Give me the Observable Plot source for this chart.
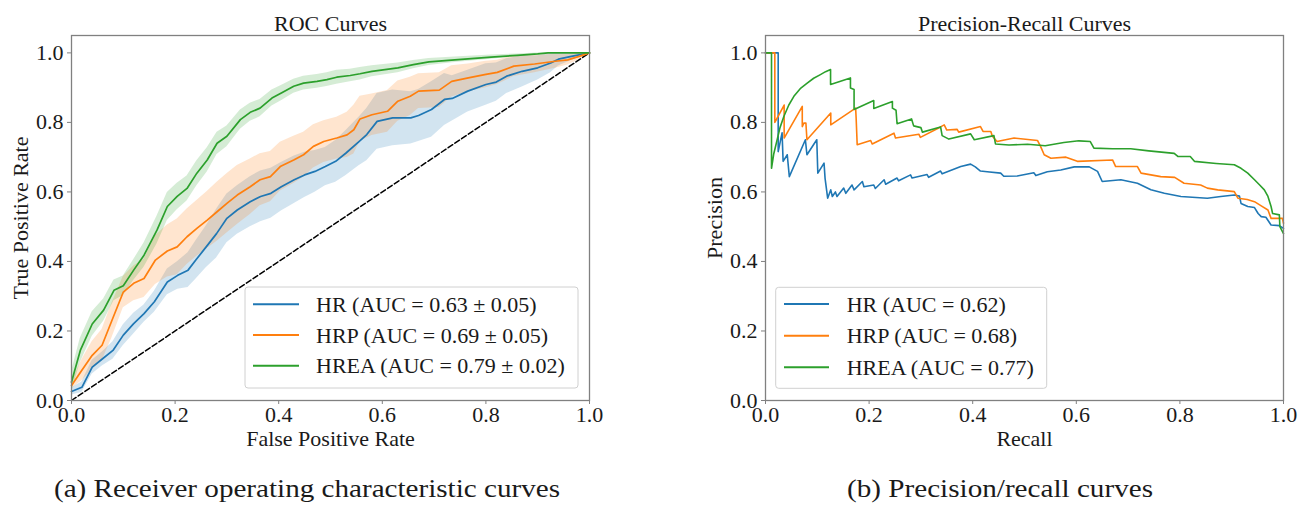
<!DOCTYPE html>
<html><head><meta charset="utf-8">
<script src="https://cdn.jsdelivr.net/npm/d3@7"></script>
<script src="https://cdn.jsdelivr.net/npm/@observablehq/plot@0.6"></script>
<style>
html,body{margin:0;padding:0;background:#fff;}
#root{position:relative;width:1307px;height:507px;overflow:hidden;}
#root svg{position:absolute;top:0;overflow:visible;}
</style></head><body><div id="root"></div>
<script>
// ---------- data ----------
const seriesNames = ["HR", "HRP", "HREA"];
const seriesColors = ["#1f77b4", "#ff7f0e", "#2ca02c"];
const rocLegendLabels = ["HR (AUC = 0.63 \u00b1 0.05)", "HRP (AUC = 0.69 \u00b1 0.05)", "HREA (AUC = 0.79 \u00b1 0.02)"];
const prLegendLabels = ["HR (AUC = 0.62)", "HRP (AUC = 0.68)", "HREA (AUC = 0.77)"];
const axisTicks = [0, 0.2, 0.4, 0.6, 0.8, 1.0];
const chanceLine = [0, 1];

const rocTitle = "ROC Curves", rocXLabel = "False Positive Rate", rocYLabel = "True Positive Rate";
const prTitle = "Precision-Recall Curves", prXLabel = "Recall", prYLabel = "Precision";
const captionA = "(a) Receiver operating characteristic curves";
const captionB = "(b) Precision/recall curves";

const rocFprHR = [0, 0.02, 0.04, 0.06, 0.08, 0.10, 0.12, 0.14, 0.16, 0.185, 0.205, 0.225, 0.24, 0.26, 0.28, 0.30, 0.32, 0.345, 0.365, 0.385, 0.405, 0.43, 0.45, 0.47, 0.49, 0.51, 0.53, 0.555, 0.57, 0.59, 0.62, 0.655, 0.67, 0.695, 0.72, 0.735, 0.765, 0.80, 0.82, 0.84, 0.87, 0.90, 0.925, 0.94, 0.965, 1.0];
const rocTprHR = [0.026, 0.038, 0.096, 0.12, 0.144, 0.188, 0.221, 0.25, 0.284, 0.341, 0.36, 0.375, 0.404, 0.442, 0.48, 0.524, 0.548, 0.572, 0.587, 0.596, 0.615, 0.635, 0.649, 0.659, 0.673, 0.688, 0.712, 0.745, 0.765, 0.803, 0.813, 0.813, 0.82, 0.837, 0.866, 0.869, 0.89, 0.909, 0.916, 0.933, 0.947, 0.957, 0.971, 0.982, 0.99, 1.0];
const rocSdHR = [0.01, 0.015, 0.02, 0.02, 0.025, 0.03, 0.03, 0.025, 0.03, 0.037, 0.04, 0.05, 0.055, 0.06, 0.07, 0.07, 0.07, 0.072, 0.073, 0.072, 0.07, 0.068, 0.065, 0.06, 0.055, 0.06, 0.065, 0.07, 0.075, 0.08, 0.08, 0.075, 0.075, 0.08, 0.075, 0.065, 0.06, 0.06, 0.055, 0.05, 0.045, 0.035, 0.028, 0.02, 0.012, 0];

const rocFprHRP = [0, 0.02, 0.04, 0.059, 0.078, 0.10, 0.12, 0.14, 0.162, 0.185, 0.204, 0.223, 0.242, 0.262, 0.281, 0.30, 0.32, 0.345, 0.364, 0.384, 0.403, 0.429, 0.448, 0.467, 0.487, 0.512, 0.532, 0.545, 0.557, 0.58, 0.61, 0.63, 0.654, 0.67, 0.71, 0.734, 0.766, 0.80, 0.822, 0.854, 0.894, 0.934, 0.958, 0.98, 1.0];
const rocTprHRP = [0.043, 0.087, 0.13, 0.159, 0.23, 0.312, 0.337, 0.351, 0.404, 0.43, 0.442, 0.471, 0.495, 0.519, 0.543, 0.567, 0.591, 0.615, 0.635, 0.644, 0.673, 0.692, 0.707, 0.731, 0.745, 0.755, 0.764, 0.779, 0.81, 0.822, 0.832, 0.861, 0.875, 0.89, 0.893, 0.918, 0.928, 0.938, 0.944, 0.962, 0.968, 0.976, 0.98, 0.99, 1.0];
const rocSdHRP = [0.01, 0.03, 0.04, 0.045, 0.05, 0.045, 0.05, 0.055, 0.07, 0.075, 0.08, 0.08, 0.08, 0.082, 0.085, 0.085, 0.085, 0.08, 0.075, 0.072, 0.07, 0.068, 0.065, 0.062, 0.06, 0.06, 0.065, 0.07, 0.065, 0.06, 0.06, 0.058, 0.055, 0.05, 0.05, 0.045, 0.04, 0.038, 0.035, 0.03, 0.025, 0.02, 0.015, 0.01, 0];

const rocFprHREA = [0, 0.017, 0.04, 0.062, 0.082, 0.10, 0.12, 0.14, 0.165, 0.185, 0.204, 0.223, 0.242, 0.262, 0.281, 0.30, 0.326, 0.345, 0.364, 0.387, 0.406, 0.429, 0.448, 0.474, 0.493, 0.512, 0.538, 0.557, 0.58, 0.63, 0.66, 0.69, 0.74, 0.81, 0.86, 0.9, 0.92, 1.0];
const rocTprHREA = [0.053, 0.144, 0.22, 0.26, 0.317, 0.33, 0.375, 0.418, 0.49, 0.558, 0.587, 0.61, 0.654, 0.692, 0.74, 0.76, 0.808, 0.829, 0.841, 0.87, 0.885, 0.904, 0.913, 0.918, 0.923, 0.93, 0.935, 0.94, 0.947, 0.957, 0.966, 0.974, 0.98, 0.988, 0.993, 0.997, 1.0, 1.0];
const rocSdHREA = [0.03, 0.035, 0.035, 0.032, 0.03, 0.028, 0.03, 0.035, 0.04, 0.04, 0.038, 0.036, 0.036, 0.035, 0.032, 0.03, 0.028, 0.026, 0.025, 0.023, 0.022, 0.02, 0.02, 0.02, 0.02, 0.02, 0.018, 0.018, 0.016, 0.014, 0.012, 0.01, 0.008, 0.006, 0.004, 0.003, 0.002, 0];

const prRecallHR = [0, 0.0245, 0.0245, 0.032, 0.034, 0.042, 0.046, 0.077, 0.08, 0.099, 0.101, 0.113, 0.115, 0.12, 0.126, 0.129, 0.135, 0.138, 0.151, 0.155, 0.167, 0.171, 0.187, 0.19, 0.209, 0.212, 0.229, 0.232, 0.254, 0.257, 0.28, 0.283, 0.312, 0.315, 0.338, 0.341, 0.377, 0.396, 0.405, 0.415, 0.428, 0.454, 0.46, 0.486, 0.518, 0.522, 0.544, 0.57, 0.596, 0.625, 0.641, 0.65, 0.686, 0.718, 0.744, 0.77, 0.802, 0.853, 0.879, 0.905, 0.915, 0.918, 0.931, 0.944, 0.951, 0.957, 0.966, 0.976, 0.992, 1.0];
const prPrecisionHR = [1, 1, 0.716, 0.77, 0.688, 0.707, 0.644, 0.75, 0.707, 0.75, 0.654, 0.683, 0.639, 0.582, 0.606, 0.587, 0.60, 0.587, 0.611, 0.596, 0.62, 0.606, 0.63, 0.615, 0.62, 0.61, 0.635, 0.622, 0.64, 0.632, 0.649, 0.64, 0.65, 0.642, 0.66, 0.652, 0.673, 0.68, 0.672, 0.66, 0.658, 0.654, 0.645, 0.646, 0.655, 0.647, 0.658, 0.663, 0.672, 0.672, 0.659, 0.63, 0.635, 0.625, 0.606, 0.596, 0.587, 0.582, 0.587, 0.591, 0.588, 0.567, 0.558, 0.555, 0.538, 0.529, 0.527, 0.505, 0.503, 0.495];

const prRecallHRP = [0, 0.018, 0.018, 0.036, 0.036, 0.071, 0.071, 0.074, 0.078, 0.08, 0.126, 0.126, 0.174, 0.175, 0.177, 0.203, 0.206, 0.248, 0.251, 0.296, 0.299, 0.338, 0.345, 0.35, 0.37, 0.373, 0.415, 0.42, 0.435, 0.438, 0.447, 0.48, 0.525, 0.531, 0.538, 0.551, 0.58, 0.602, 0.67, 0.676, 0.718, 0.725, 0.763, 0.79, 0.808, 0.84, 0.853, 0.873, 0.905, 0.912, 0.93, 0.944, 0.957, 0.97, 0.976, 0.998, 1.0];
const prPrecisionHRP = [1, 1, 0.8, 0.85, 0.755, 0.846, 0.788, 0.798, 0.798, 0.75, 0.827, 0.793, 0.841, 0.812, 0.736, 0.748, 0.738, 0.769, 0.755, 0.766, 0.757, 0.787, 0.793, 0.778, 0.78, 0.772, 0.788, 0.774, 0.774, 0.76, 0.745, 0.755, 0.748, 0.731, 0.707, 0.697, 0.70, 0.688, 0.692, 0.673, 0.673, 0.654, 0.644, 0.642, 0.625, 0.62, 0.611, 0.606, 0.601, 0.582, 0.578, 0.572, 0.56, 0.548, 0.524, 0.524, 0.51];

const prRecallHREA = [0, 0.0116, 0.0116, 0.016, 0.0225, 0.028, 0.0354, 0.045, 0.0548, 0.067, 0.0805, 0.093, 0.106, 0.116, 0.1256, 0.1256, 0.164, 0.164, 0.171, 0.171, 0.209, 0.209, 0.245, 0.245, 0.252, 0.254, 0.282, 0.286, 0.30, 0.303, 0.338, 0.341, 0.354, 0.396, 0.403, 0.441, 0.444, 0.47, 0.506, 0.54, 0.576, 0.605, 0.627, 0.634, 0.67, 0.705, 0.74, 0.789, 0.796, 0.82, 0.828, 0.87, 0.905, 0.918, 0.931, 0.944, 0.954, 0.963, 0.97, 0.976, 0.979, 0.992, 0.993, 1.0];
const prPrecisionHREA = [1, 1, 0.668, 0.71, 0.75, 0.785, 0.817, 0.85, 0.875, 0.897, 0.913, 0.927, 0.9375, 0.946, 0.952, 0.909, 0.928, 0.899, 0.895, 0.837, 0.863, 0.84, 0.86, 0.841, 0.835, 0.796, 0.81, 0.79, 0.785, 0.772, 0.787, 0.762, 0.752, 0.767, 0.75, 0.762, 0.738, 0.735, 0.737, 0.733, 0.742, 0.747, 0.745, 0.726, 0.724, 0.724, 0.718, 0.711, 0.702, 0.702, 0.688, 0.682, 0.678, 0.668, 0.654, 0.635, 0.62, 0.606, 0.587, 0.558, 0.538, 0.534, 0.5, 0.48];

// ---------- tables ----------
function rocRows(name, fpr, tpr, sd) {
  return fpr.map((x, i) => ({series: name, x, y: tpr[i], lo: Math.max(0, tpr[i] - sd[i]), hi: Math.min(1, tpr[i] + sd[i])}));
}
function prRows(name, rec, prec) {
  return rec.map((x, i) => ({series: name, x, y: prec[i]}));
}
const rocData = [
  ...rocRows("HR", rocFprHR, rocTprHR, rocSdHR),
  ...rocRows("HRP", rocFprHRP, rocTprHRP, rocSdHRP),
  ...rocRows("HREA", rocFprHREA, rocTprHREA, rocSdHREA)
];
const prData = [
  ...prRows("HR", prRecallHR, prPrecisionHR),
  ...prRows("HRP", prRecallHRP, prPrecisionHRP),
  ...prRows("HREA", prRecallHREA, prPrecisionHREA)
];

// ---------- styling ----------
const FONT = "'Liberation Serif', 'Times New Roman', serif";
const FS = 22;
const INK = "#1a1a1a";
const SPINE = "#808080";

function commonMarks(title, xLabel, yLabel, yLabelDx) {
  return [
    Plot.frame({stroke: SPINE, strokeWidth: 1.3}),
    Plot.axisX({ticks: axisTicks, tickFormat: d3.format(".1f"), tickSize: 4, tickPadding: 2, label: null, stroke: SPINE, fill: INK}),
    Plot.axisY({ticks: axisTicks, tickFormat: d3.format(".1f"), tickSize: 4, tickPadding: 4, label: null, stroke: SPINE, fill: INK}),
    Plot.text([title], {text: d => d, frameAnchor: "top", textAnchor: "middle", lineAnchor: "bottom", dy: -5, fill: INK, fontSize: FS}),
    Plot.text([xLabel], {text: d => d, frameAnchor: "bottom", textAnchor: "middle", lineAnchor: "top", dy: 30, fill: INK, fontSize: FS}),
    Plot.text([yLabel], {text: d => d, frameAnchor: "left", textAnchor: "middle", lineAnchor: "middle", dx: yLabelDx, rotate: -90, fill: INK, fontSize: FS})
  ];
}

const rocPlot = Plot.plot({
  width: 650, height: 507,
  marginLeft: 71, marginRight: 61, marginTop: 35, marginBottom: 107,
  x: {domain: [0, 1]},
  y: {domain: [0, 1.05]},
  color: {domain: seriesNames, range: seriesColors},
  style: {fontFamily: FONT, fontSize: FS + "px", color: INK, background: "white", overflow: "visible"},
  marks: [
    Plot.areaY(rocData, {x: "x", y1: "lo", y2: "hi", z: "series", fill: "series", fillOpacity: 0.2}),
    Plot.line(chanceLine, {x: d => d, y: d => d, stroke: "black", strokeWidth: 1.5, strokeDasharray: "5.5,2.6"}),
    Plot.line(rocData, {x: "x", y: "y", z: "series", stroke: "series", strokeWidth: 1.7}),
    ...commonMarks(rocTitle, rocXLabel, rocYLabel, -51)
  ]
});

const prPlot = Plot.plot({
  width: 657, height: 507,
  marginLeft: 115, marginRight: 24, marginTop: 35, marginBottom: 107,
  x: {domain: [0, 1]},
  y: {domain: [0, 1.05]},
  color: {domain: seriesNames, range: seriesColors},
  style: {fontFamily: FONT, fontSize: FS + "px", color: INK, background: "white", overflow: "visible"},
  marks: [
    Plot.line(prData, {x: "x", y: "y", z: "series", stroke: "series", strokeWidth: 1.6}),
    ...commonMarks(prTitle, prXLabel, prYLabel, -51)
  ]
});

const root = document.getElementById("root");
rocPlot.style.left = "0px";
prPlot.style.left = "650px";
root.appendChild(rocPlot);
root.appendChild(prPlot);

// ---------- legends ----------
function addLegend(svg, labels, box, lineX, textX, rowYs) {
  const g = d3.select(svg).append("g").attr("class", "legend").attr("text-anchor", "start");
  g.append("rect").attr("x", box[0]).attr("y", box[1]).attr("width", box[2]).attr("height", box[3])
    .attr("rx", 3).attr("fill", "white").attr("fill-opacity", 0.85).attr("stroke", "#d0d0d0").attr("stroke-width", 1);
  labels.forEach((lab, i) => {
    g.append("line").attr("x1", lineX[0]).attr("x2", lineX[1]).attr("y1", rowYs[i]).attr("y2", rowYs[i])
      .attr("stroke", seriesColors[i]).attr("stroke-width", 2);
    g.append("text").attr("x", textX).attr("y", rowYs[i] + 7.5).attr("fill", INK).attr("text-anchor", "start")
      .attr("font-family", FONT).attr("font-size", FS).text(lab);
  });
}
addLegend(rocPlot, rocLegendLabels, [245, 287, 333, 101], [253, 299], 316, [304.3, 335, 365.7]);
addLegend(prPlot, prLegendLabels, [125.7, 287.3, 271, 101], [134, 179], 196.7, [304, 335.7, 367.3]);

// ---------- captions (LaTeX subfigure captions below each panel) ----------
function addCaption(svg, text, cx, width) {
  d3.select(svg).append("text").attr("x", cx).attr("y", 497).attr("text-anchor", "middle")
    .attr("fill", INK).attr("font-family", FONT).attr("font-size", 25)
    .attr("textLength", width).attr("lengthAdjust", "spacingAndGlyphs").text(text);
}
addCaption(rocPlot, captionA, 307, 506);
addCaption(prPlot, captionB, 350, 306);
</script>
</body></html>
